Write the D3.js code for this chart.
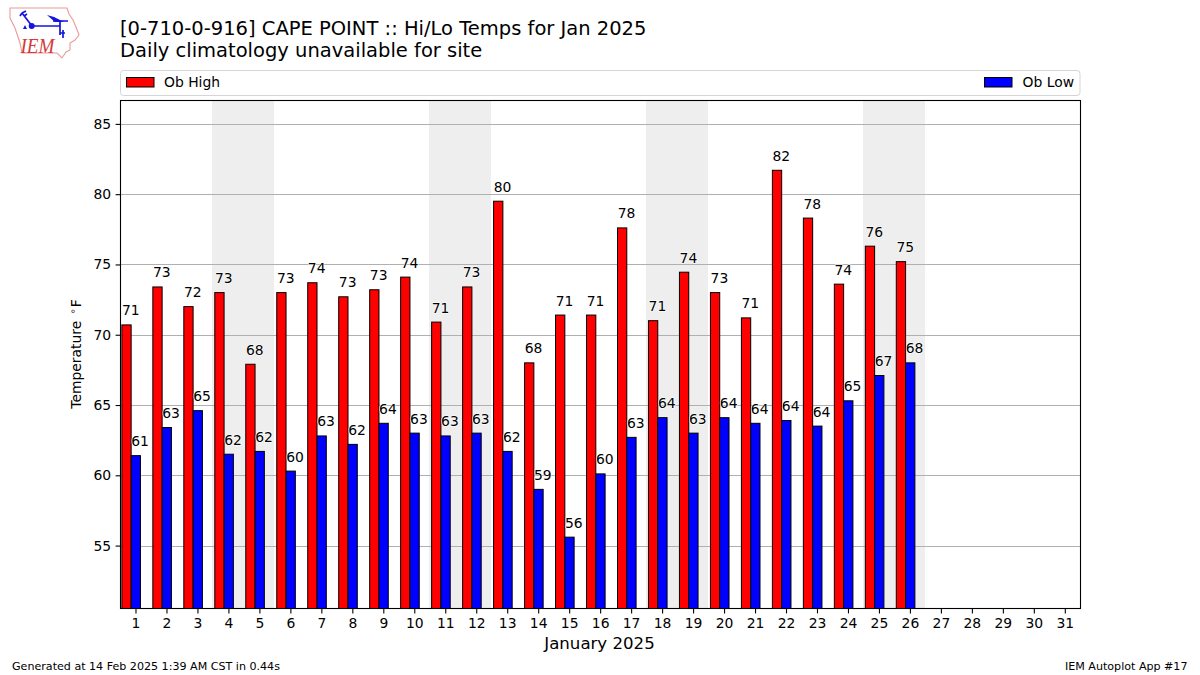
<!DOCTYPE html>
<html><head><meta charset="utf-8">
<script src="https://cdn.jsdelivr.net/npm/d3@7"></script>
<style>
html,body{margin:0;padding:0;background:#fff}
svg{display:block}
text{font-family:"DejaVu Sans",sans-serif;fill:#000}
</style></head><body>
<svg id="c" width="1200" height="675"></svg>
<script>
const days = d3.range(1,27);
const allDays = d3.range(1,32);
const obHigh = [70.7,73.4,72,73,67.9,73,73.7,72.7,73.2,74.1,70.9,73.4,79.5,68,71.4,71.4,77.6,71,74.45,73,71.2,81.7,78.3,73.6,76.3,75.2];
const obLow = [61.4,63.4,64.6,61.5,61.7,60.3,62.8,62.2,63.7,63,62.8,63,61.7,59,55.6,60.1,62.7,64.1,63,64.1,63.7,63.9,63.5,65.3,67.1,68];
const weekends = [[4,5],[11,12],[18,19],[25,26]];
const yTicks = [55,60,65,70,75,80,85];
const titleLines = ["[0-710-0-916] CAPE POINT :: Hi/Lo Temps for Jan 2025","Daily climatology unavailable for site"];
const seriesNames = ["Ob High","Ob Low"];
const seriesColors = ["#ff0000","#0000ff"];

const svg = d3.select("#c");
const L=120.5,R=1080.5,T=100.5,B=608.5;
const x = d3.scaleLinear().domain([0.5,31.5]).range([120,1080.3]);
const y = d3.scaleLinear().domain([50.56,86.7]).range([608,100]);

// weekend shading
svg.append("g").selectAll("rect").data(weekends).join("rect")
 .attr("x",d=>Math.floor(x(d[0]-0.5))).attr("width",d=>x(d[1]+0.5)-x(d[0]-0.5))
 .attr("y",T).attr("height",B-T).attr("fill","#eeeeee");

// grid
svg.append("g").selectAll("line").data(yTicks).join("line")
 .attr("x1",L).attr("x2",R).attr("y1",d=>Math.round(y(d))+.5).attr("y2",d=>Math.round(y(d))+.5)
 .attr("stroke","#b0b0b0").attr("stroke-width",1.1);

// bars
const bw=0.3;
function bars(vals,off,color){
 svg.append("g").selectAll("rect").data(vals).join("rect")
  .attr("x",(d,i)=>x(days[i]+off)).attr("width",x(bw)-x(0))
  .attr("y",d=>y(d)).attr("height",d=>B-y(d))
  .attr("fill",color).attr("stroke","#000").attr("stroke-width",1);
}
bars(obHigh,-0.44,seriesColors[0]);
bars(obLow,-0.14,seriesColors[1]);

// labels
function labels(vals,off){
 svg.append("g").selectAll("text").data(vals).join("text")
  .attr("x",(d,i)=>x(days[i]+off)).attr("y",d=>y(d)-9.5)
  .attr("text-anchor","middle").attr("font-size",13.9)
  .attr("stroke","#fff").attr("stroke-width",1.2).attr("paint-order","stroke")
  .text(d=>Math.round(d));
}
labels(obHigh,-0.15);
labels(obLow,0.15);

// frame
svg.append("rect").attr("x",L).attr("y",T).attr("width",R-L).attr("height",B-T)
 .attr("fill","none").attr("stroke","#000").attr("stroke-width",1.1);

// axes
const ax = svg.append("g").attr("transform",`translate(0,${B})`)
 .call(d3.axisBottom(x).tickValues(allDays).tickFormat(d3.format("d")).tickSize(4.9).tickPadding(4.5));
ax.select(".domain").remove();
const ay = svg.append("g").attr("transform",`translate(${L},0)`)
 .call(d3.axisLeft(y).tickValues(yTicks).tickFormat(d3.format("d")).tickSize(4.9).tickPadding(4.5));
ay.select(".domain").remove();
svg.selectAll(".tick text").attr("font-size",13.9).attr("font-family","DejaVu Sans").attr("fill","#000");
svg.selectAll(".tick line").attr("stroke","#000").attr("stroke-width",1.1);

// axis titles
svg.append("text").attr("x",599.5).attr("y",649).attr("text-anchor","middle").attr("font-size",16.6).text("January 2025");
const yl=svg.append("text").attr("transform","translate(80.5,354) rotate(-90)").attr("text-anchor","middle").attr("font-size",13.9);
yl.append("tspan").text("Temperature ");
yl.append("tspan").attr("font-size",9.7).attr("dy",-5).attr("dx",2).text("∘");
yl.append("tspan").attr("dy",5).attr("dx",1).text("F");

// title
svg.selectAll(".ttl").data(titleLines).join("text").attr("class","ttl")
 .attr("x",120).attr("y",(d,i)=>35+i*22).attr("font-size",19.5).text(d=>d);

// legend
svg.append("rect").attr("x",120.5).attr("y",70.5).attr("width",959.5).attr("height",25).attr("rx",3)
 .attr("fill","#fff").attr("stroke","#d5d5d5").attr("stroke-width",1);
const lg=[{x:126.5,t:164},{x:984.5,t:1022.5}];
seriesNames.forEach((n,i)=>{
 svg.append("rect").attr("x",lg[i].x).attr("y",77.5).attr("width",27.5).attr("height",9.5)
  .attr("fill",seriesColors[i]).attr("stroke","#000").attr("stroke-width",1);
 svg.append("text").attr("x",lg[i].t).attr("y",86.5).attr("font-size",13.9).text(n);
});

// footer
svg.append("text").attr("x",12).attr("y",670).attr("font-size",11.1).text("Generated at 14 Feb 2025 1:39 AM CST in 0.44s");
svg.append("text").attr("x",1187.5).attr("y",670).attr("text-anchor","end").attr("font-size",11.1).text("IEM Autoplot App #17");

// logo
const logo=svg.append("g");
logo.append("path").attr("d","M10 8 L67 8 L69 14 L73 20 L76 27 L79 35 L75 40 L70 43 L70 50 L66 52 L62 58 L57 53 L22 53 L20 43 L15 28 L10 18 Z")
 .attr("fill","#fff").attr("stroke","#ea9a9a").attr("stroke-width",1.1);
const blue="#1414dc";
logo.append("path").attr("d","M32 26 L60 26 M53 21 L68 21 M60 21 L60 35 M63 30 L63 38 M60 33 L65 33 M32 26 L22 13 M22 13 L20 16 M22 13 L26 11 M24 16 L27 14")
 .attr("fill","none").attr("stroke",blue).attr("stroke-width",1.7);
logo.append("circle").attr("cx",31.7).attr("cy",26).attr("r",3).attr("fill",blue);
logo.append("path").attr("d","M47 15 L54 17 L64 22 L55 22 Z").attr("fill",blue);
logo.append("path").attr("d","M23 29 L25 25 L27 29 Z").attr("fill",blue);
logo.append("text").attr("x",20.5).attr("y",52.5).style("font-size","22px").style("font-style","italic")
 .style("font-family","'Liberation Serif'").style("fill","#d43a3a").attr("textLength",34).attr("lengthAdjust","spacingAndGlyphs").text("IEM");
</script>
</body></html>
